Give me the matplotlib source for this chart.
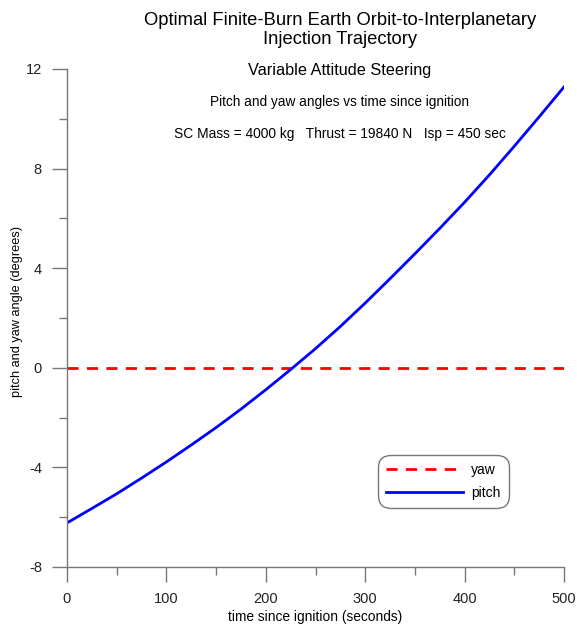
import matplotlib
matplotlib.use("Agg")
import matplotlib.pyplot as plt
from matplotlib.ticker import MultipleLocator

plt.rcParams['font.family'] = ['Liberation Sans', 'DejaVu Sans']
plt.rcParams['axes.unicode_minus'] = False

# time since ignition (seconds)
time_s = [0, 25, 50, 75, 100, 125, 150, 175, 200, 225, 250,
          275, 300, 325, 350, 375, 400, 425, 450, 475, 500]

# steering angles (degrees)
pitch_deg = [-6.23, -5.65, -5.06, -4.43, -3.78, -3.10, -2.40, -1.66, -0.88, -0.07, 0.77,
             1.66, 2.60, 3.58, 4.58, 5.60, 6.65, 7.75, 8.90, 10.08, 11.28]
yaw_deg = [0.0] * len(time_s)

title_lines = "Optimal Finite-Burn Earth Orbit-to-Interplanetary\nInjection Trajectory"
subtitle = "Variable Attitude Steering"
caption = "Pitch and yaw angles vs time since ignition"
params_text = "SC Mass = 4000 kg   Thrust = 19840 N   Isp = 450 sec"


def main():
    fig = plt.figure(figsize=(5.77, 6.25), dpi=100)
    ax = fig.add_axes([0.1161, 0.0928, 0.8614, 0.7968])

    ax.plot(time_s, yaw_deg, color='red', lw=2.0, dashes=(4, 3), label='yaw')
    ax.plot(time_s, pitch_deg, color='blue', lw=2.0, label='pitch')

    ax.set_xlim(0, 500)
    ax.set_ylim(-8, 12)
    ax.xaxis.set_major_locator(MultipleLocator(100))
    ax.xaxis.set_minor_locator(MultipleLocator(50))
    ax.yaxis.set_major_locator(MultipleLocator(4))
    ax.yaxis.set_minor_locator(MultipleLocator(2))

    for side in ('top', 'right'):
        ax.spines[side].set_visible(False)
    for side in ('left', 'bottom'):
        ax.spines[side].set_color('#777777')
        ax.spines[side].set_linewidth(1.0)

    ax.tick_params(which='major', direction='out', length=11, width=1.0,
                   color='#777777', labelsize=10.5, labelcolor='#222222', pad=7)
    ax.tick_params(which='minor', direction='out', length=6, width=1.0,
                   color='#777777')

    ax.set_xlabel('time since ignition (seconds)', fontsize=9.9, labelpad=3)
    ax.set_ylabel('pitch and yaw angle (degrees)', fontsize=9.2)
    ax.yaxis.set_label_coords(-0.088, 0.514)

    leg = ax.legend(loc='upper left', bbox_to_anchor=(0.626, 0.225),
                    borderaxespad=0, fontsize=10, handlelength=5.5,
                    fancybox=True, framealpha=1, edgecolor='#777777',
                    borderpad=0.6, labelspacing=0.6, handletextpad=0.6)
    leg.get_frame().set_linewidth(1.0)
    leg.get_frame().set_boxstyle('round', pad=0, rounding_size=0.9)

    cx = 340 / 577
    fig.text(cx, 1 - 30 / 625, title_lines, ha='center', va='center',
             fontsize=13.2, linespacing=1.2)
    fig.text(cx, 1 - 70 / 625, subtitle, ha='center', va='center', fontsize=11.7)
    fig.text(cx, 1 - 102 / 625, caption, ha='center', va='center', fontsize=9.8)
    fig.text(cx, 1 - 134 / 625, params_text, ha='center', va='center', fontsize=9.9)

    fig.savefig('out.png', dpi=100)


if __name__ == "__main__":
    main()
